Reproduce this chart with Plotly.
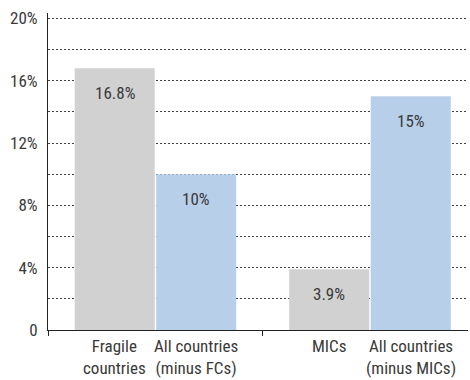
import plotly.graph_objects as go

groups = ["Fragile countries", "MICs"]
focus_labels = ["Fragile<br>countries", "MICs"]
focus_values = [16.8, 3.9]
comparison_labels = ["All countries<br>(minus FCs)", "All countries<br>(minus MICs)"]
comparison_values = [10, 15]
value_text_focus = ["16.8%", "3.9%"]
value_text_comp = ["10%", "15%"]
ytick_vals = [0, 4, 8, 12, 16, 20]
ytick_text = ["0", "4%", "8%", "12%", "16%", "20%"]

FONT = "Liberation Sans Narrow, Roboto Condensed, Arial Narrow, Liberation Sans, sans-serif"
TXT = "#3a3a3a"
GREY = "#d1d1d1"
BLUE = "#b8cfe9"
OFF = 40.75  # half bar slot in px

fig = go.Figure()
fig.add_trace(go.Bar(x=groups, y=focus_values, marker=dict(color=GREY, line=dict(width=0)),
                     hoverinfo="skip", showlegend=False))
fig.add_trace(go.Bar(x=groups, y=comparison_values, marker=dict(color=BLUE, line=dict(width=0)),
                     hoverinfo="skip", showlegend=False))

ann = []
for g, lab, v, t in zip(groups, focus_labels, focus_values, value_text_focus):
    ann.append(dict(x=g, y=0, xref="x", yref="y", text=lab, showarrow=False, xshift=-OFF,
                    yanchor="top", yshift=-4, font=dict(size=17, color=TXT, family=FONT)))
    ann.append(dict(x=g, y=v, xref="x", yref="y", text=t, showarrow=False, xshift=-OFF,
                    yanchor="middle", yshift=-25, font=dict(size=17, color=TXT, family=FONT)))
for g, lab, v, t in zip(groups, comparison_labels, comparison_values, value_text_comp):
    ann.append(dict(x=g, y=0, xref="x", yref="y", text=lab, showarrow=False, xshift=OFF,
                    yanchor="top", yshift=-4, font=dict(size=17, color=TXT, family=FONT)))
    ann.append(dict(x=g, y=v, xref="x", yref="y", text=t, showarrow=False, xshift=OFF,
                    yanchor="middle", yshift=-25, font=dict(size=17, color=TXT, family=FONT)))

fig.update_layout(
    width=470, height=380,
    margin=dict(l=48, r=2, t=13, b=50),
    paper_bgcolor="white", plot_bgcolor="white",
    barmode="group", bargap=0.24, bargroupgap=0.018,
    font=dict(family=FONT, size=17, color=TXT),
    annotations=ann,
    xaxis=dict(type="category", range=[-0.501, 1.457], tickson="boundaries",
               ticks="outside", ticklen=5, tickcolor="#222", showticklabels=False,
               showline=True, linecolor="#222", linewidth=1, showgrid=False, zeroline=False),
    yaxis=dict(range=[0, 20.35], tickvals=ytick_vals, ticktext=ytick_text,
               showline=True, linecolor="#222", linewidth=1, ticks="",
               ticklabelstandoff=6,
               showgrid=True, gridcolor="#444444", griddash="2px,2px", gridwidth=1,
               minor=dict(dtick=2, tick0=0, showgrid=True, gridcolor="#444444",
                          griddash="2px,2px", gridwidth=1),
               zeroline=False, tickfont=dict(size=17, color=TXT, family=FONT)),
)
fig.write_html("out.html")
